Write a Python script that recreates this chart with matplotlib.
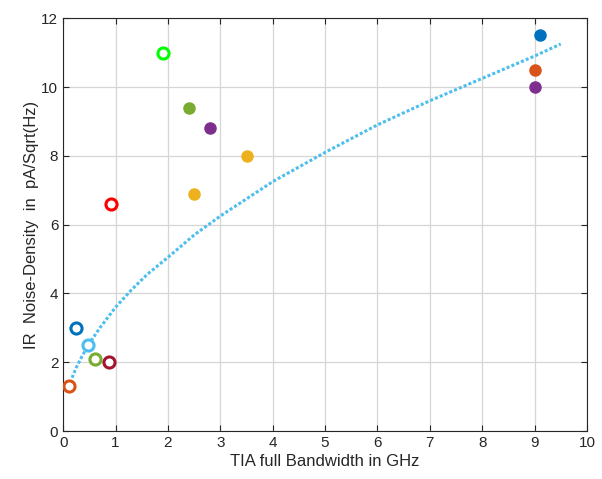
import matplotlib
matplotlib.use('Agg')
import matplotlib.pyplot as plt

plt.rcParams['font.family'] = ['Liberation Sans', 'DejaVu Sans']

# open-marker points (bandwidth GHz, noise pA/sqrt(Hz), colour)
open_x = [0.12, 0.25, 0.48, 0.60, 0.88, 0.92, 1.90]
open_y = [1.3, 3.0, 2.5, 2.1, 2.0, 6.6, 11.0]
open_c = ['#D95319', '#0072BD', '#4DBEEE', '#77AC30', '#A2142F', '#FF0000', '#00FF00']

# filled-marker points
fill_x = [2.4, 2.8, 3.5, 2.5, 9.1, 9.0, 9.0]
fill_y = [9.4, 8.8, 8.0, 6.9, 11.5, 10.5, 10.0]
fill_c = ['#77AC30', '#7E2F8E', '#EDB120', '#EDB120', '#0072BD', '#D95319', '#7E2F8E']

# trend curve
fit_x = [0.17, 0.25, 0.35, 0.5, 0.7, 1.0, 1.3, 1.6, 2.0, 2.5, 3.0, 3.5, 4.0, 5.0, 6.0, 7.0, 8.0, 9.0, 9.5]
fit_y = [1.55, 1.85, 2.15, 2.55, 3.0, 3.6, 4.1, 4.55, 5.05, 5.7, 6.25, 6.75, 7.25, 8.1, 8.9, 9.6, 10.25, 10.9, 11.25]

fig = plt.figure(figsize=(6.02, 4.79), dpi=100)
ax = fig.add_axes([0.105, 0.100, 0.870, 0.862])

ax.plot(fit_x, fit_y, linestyle=(0, (1, 0.7)), color='#4DBEEE', linewidth=2.2, zorder=2)

for x, y, c in zip(open_x, open_y, open_c):
    ax.plot(x, y, 'o', markersize=8, markerfacecolor='white', markeredgecolor=c, markeredgewidth=2.2, zorder=3)
for x, y, c in zip(fill_x, fill_y, fill_c):
    ax.plot(x, y, 'o', markersize=8, color=c, zorder=3)

ax.set_xlim(0, 10)
ax.set_ylim(0, 12)
ax.set_xticks(range(0, 11))
ax.set_yticks(range(0, 13, 2))
ax.grid(True, color='#d6d6d6', linewidth=0.9)
ax.set_axisbelow(True)
ax.tick_params(direction='in', top=True, right=True, labelsize=11, colors='#262626', length=4)
for s in ax.spines.values():
    s.set_color('#262626')
    s.set_linewidth(0.8)

ax.set_xlabel('TIA full Bandwidth in GHz', fontsize=12, color='#262626', labelpad=3)
ax.set_ylabel('IR  Noise-Density  in  pA/Sqrt(Hz)', fontsize=12, color='#262626', labelpad=2)

fig.savefig('out.png', dpi=100)
